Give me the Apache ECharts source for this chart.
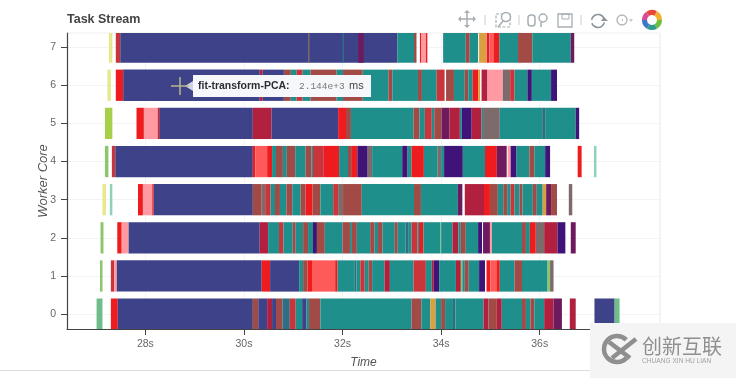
<!DOCTYPE html>
<html><head><meta charset="utf-8">
<style>html,body{margin:0;padding:0;background:#fff}#c{width:736px;height:378px;filter:blur(0.65px)}</style>
<script src="https://cdn.jsdelivr.net/npm/echarts@6/dist/echarts.min.js"></script>
</head><body><div id="c"></div>
<script>
const xTicks=[28,30,32,34,36];
const yTicks=[0,1,2,3,4,5,6,7];
const kinds={N:'#3e4389',T:'#1f8f8c',R:'#ee1c1f',B:'#a14a46',C:'#b1203f',I:'#3f1377',M:'#6d1b5e',P:'#ff9aa2',S:'#ff5a5a',G:'#7d6a6a',L:'#2f6d82',Y:'#e6e88c',E:'#8cc66a',A:'#a8cf4a',O:'#d9a040',K:'#8fd0b8',F:'#70bd8a',D:'#c9353a'};
const row0=[[27.01,27.13,'F'],[27.30,27.44,'R'],[27.44,30.18,'N'],[30.18,30.29,'B'],[30.29,30.47,'N'],[30.47,30.57,'C'],[30.57,30.65,'N'],[30.65,30.78,'B'],[30.78,30.93,'L'],[30.93,31.05,'D'],[31.05,31.18,'T'],[31.18,31.27,'N'],[31.27,31.32,'T'],[31.32,31.55,'B'],[31.55,33.40,'T'],[33.40,33.60,'B'],[33.60,33.78,'T'],[33.78,33.89,'O'],[33.89,34.0,'T'],[34.0,34.08,'B'],[34.08,34.24,'T'],[34.24,34.29,'L'],[34.29,34.86,'T'],[34.86,34.96,'C'],[34.96,35.13,'B'],[35.13,35.23,'C'],[35.23,35.64,'T'],[35.64,35.72,'B'],[35.72,35.81,'T'],[35.81,35.89,'B'],[35.89,36.09,'T'],[36.09,36.28,'C'],[36.28,36.45,'M'],[36.61,36.73,'C'],[37.11,37.52,'N'],[37.52,37.62,'F']];
const row1=[[27.08,27.13,'E'],[27.30,27.37,'D'],[27.37,27.42,'P'],[27.42,30.36,'N'],[30.36,30.53,'R'],[30.53,31.12,'N'],[31.12,31.20,'T'],[31.20,31.29,'B'],[31.29,31.38,'R'],[31.38,31.85,'S'],[31.85,31.90,'R'],[31.90,32.25,'T'],[32.25,32.28,'L'],[32.28,32.36,'T'],[32.36,32.45,'D'],[32.45,32.53,'T'],[32.53,32.60,'B'],[32.60,32.85,'T'],[32.85,32.96,'C'],[32.96,33.44,'T'],[33.44,33.69,'D'],[33.69,33.81,'T'],[33.81,33.85,'C'],[33.85,33.96,'I'],[33.96,34.30,'T'],[34.30,34.40,'C'],[34.40,34.43,'E'],[34.43,34.48,'T'],[34.48,34.56,'B'],[34.56,34.77,'T'],[34.77,34.89,'I'],[34.92,35.0,'R'],[35.0,35.12,'S'],[35.12,35.19,'R'],[35.19,35.49,'T'],[35.49,35.64,'B'],[35.64,36.16,'T'],[36.16,36.21,'E'],[36.21,36.28,'G']];
const row2=[[27.09,27.15,'E'],[27.43,27.52,'R'],[27.52,27.66,'P'],[27.66,30.32,'N'],[30.32,30.49,'C'],[30.49,30.71,'T'],[30.71,30.80,'D'],[30.80,30.99,'T'],[30.99,31.05,'B'],[31.05,31.20,'T'],[31.20,31.30,'B'],[31.30,31.40,'T'],[31.40,31.48,'I'],[31.48,31.64,'B'],[31.64,32.0,'T'],[32.0,32.15,'B'],[32.15,32.19,'T'],[32.19,32.29,'B'],[32.29,32.56,'T'],[32.56,32.65,'B'],[32.65,32.72,'T'],[32.72,32.81,'B'],[32.81,33.06,'T'],[33.06,33.12,'B'],[33.12,33.28,'T'],[33.28,33.33,'L'],[33.33,33.40,'T'],[33.40,33.52,'D'],[33.52,33.55,'T'],[33.55,33.64,'R'],[33.64,33.98,'T'],[33.98,34.0,'F'],[34.0,34.23,'T'],[34.23,34.35,'C'],[34.35,34.40,'T'],[34.40,34.50,'B'],[34.50,34.75,'T'],[34.75,34.83,'I'],[34.85,34.99,'M'],[34.99,35.03,'P'],[35.03,35.64,'T'],[35.64,35.72,'B'],[35.72,35.80,'T'],[35.80,35.92,'R'],[35.92,36.09,'G'],[36.09,36.36,'C'],[36.36,36.52,'I'],[36.63,36.73,'M']];
const row3=[[27.13,27.20,'Y'],[27.28,27.33,'K'],[27.85,27.95,'R'],[27.95,28.14,'P'],[28.14,28.17,'R'],[28.17,30.18,'N'],[30.18,30.36,'B'],[30.36,30.43,'G'],[30.43,30.54,'D'],[30.54,30.63,'T'],[30.63,30.73,'B'],[30.73,30.86,'T'],[30.86,30.98,'B'],[30.98,31.15,'T'],[31.15,31.25,'B'],[31.25,31.39,'R'],[31.39,31.55,'B'],[31.55,31.81,'T'],[31.81,31.91,'D'],[31.91,32.01,'G'],[32.01,32.39,'B'],[32.39,33.45,'T'],[33.45,33.59,'B'],[33.59,34.34,'T'],[34.34,34.43,'M'],[34.48,34.87,'C'],[34.87,34.99,'R'],[34.99,35.15,'B'],[35.15,35.26,'T'],[35.26,35.34,'B'],[35.34,35.41,'T'],[35.41,35.49,'D'],[35.49,35.59,'T'],[35.59,35.65,'B'],[35.65,35.86,'T'],[35.86,35.94,'B'],[35.94,36.06,'T'],[36.06,36.13,'O'],[36.13,36.23,'M'],[36.23,36.35,'B'],[36.59,36.66,'G']];
const row4=[[27.18,27.25,'E'],[27.32,27.39,'D'],[27.39,30.18,'N'],[30.18,30.23,'R'],[30.23,30.47,'S'],[30.47,30.57,'R'],[30.57,30.65,'T'],[30.65,30.79,'B'],[30.79,30.87,'T'],[30.87,31.04,'B'],[31.04,31.25,'T'],[31.25,31.37,'B'],[31.37,31.40,'T'],[31.40,31.62,'D'],[31.62,31.93,'R'],[31.93,32.11,'T'],[32.11,32.19,'B'],[32.19,32.30,'R'],[32.30,32.51,'I'],[32.51,32.60,'G'],[32.60,33.21,'T'],[33.21,33.32,'I'],[33.32,33.40,'T'],[33.40,33.65,'R'],[33.65,33.93,'T'],[33.93,34.0,'G'],[34.0,34.06,'T'],[34.06,34.44,'I'],[34.44,34.89,'T'],[34.89,35.13,'R'],[35.13,35.33,'M'],[35.35,35.41,'P'],[35.41,35.53,'I'],[35.53,35.79,'T'],[35.79,35.89,'B'],[35.89,36.11,'T'],[36.11,36.21,'I'],[36.77,36.85,'R'],[37.10,37.15,'K']];
const row5=[[27.18,27.33,'A'],[27.82,27.97,'R'],[27.97,28.25,'P'],[28.25,28.28,'R'],[28.28,30.18,'N'],[30.18,30.56,'C'],[30.56,31.91,'N'],[31.91,32.07,'R'],[32.07,32.17,'B'],[32.17,33.44,'T'],[33.44,33.56,'B'],[33.56,33.67,'T'],[33.67,33.81,'D'],[33.81,33.86,'T'],[33.86,34.01,'B'],[34.01,34.17,'M'],[34.17,34.38,'C'],[34.38,34.42,'T'],[34.42,34.62,'I'],[34.62,34.82,'C'],[34.82,34.85,'T'],[34.85,35.19,'G'],[35.19,36.05,'T'],[36.05,36.11,'L'],[36.11,36.73,'T'],[36.73,36.80,'I']];
const row6=[[27.23,27.30,'Y'],[27.40,27.55,'R'],[27.55,30.32,'N'],[30.32,30.38,'C'],[30.38,30.81,'N'],[30.81,30.95,'B'],[30.95,31.07,'T'],[31.07,31.19,'D'],[31.19,31.35,'T'],[31.35,31.88,'B'],[31.88,32.01,'T'],[32.01,32.41,'B'],[32.41,32.93,'T'],[32.93,33.01,'B'],[33.01,33.53,'T'],[33.53,33.61,'B'],[33.61,33.91,'T'],[33.91,34.07,'D'],[34.10,34.26,'B'],[34.26,34.48,'T'],[34.48,34.55,'B'],[34.55,34.64,'T'],[34.64,34.75,'R'],[34.75,34.79,'O'],[34.82,34.94,'C'],[34.94,35.25,'P'],[35.25,35.40,'G'],[35.40,35.49,'D'],[35.49,35.75,'T'],[35.75,35.84,'I'],[35.84,36.23,'T'],[36.23,36.35,'I']];
const row7=[[27.26,27.33,'Y'],[27.40,27.49,'D'],[27.49,33.11,'N'],[31.30,31.33,'G'],[32.0,32.03,'L'],[32.32,32.43,'M'],[33.11,33.45,'T'],[33.45,33.50,'B'],[33.57,33.60,'R'],[33.60,33.69,'P'],[33.69,33.72,'R'],[34.04,34.50,'T'],[34.50,34.58,'B'],[34.58,34.75,'T'],[34.77,34.91,'O'],[34.92,34.98,'R'],[34.98,35.06,'S'],[35.06,35.18,'R'],[35.18,35.56,'T'],[35.56,35.85,'B'],[35.85,36.63,'T'],[36.63,36.70,'M']];
const rows=[row0,row1,row2,row3,row4,row5,row6,row7];
const barHeight=0.82;
const segs=[];rows.forEach((r,i)=>r.forEach(s=>segs.push([s[0],s[1],i,s[2]])));
const tc='#666';
const g=[];
const icon='#a6aeb2';
function ln(x1,y1,x2,y2,c,w,z){g.push({type:'line',z:z||0,shape:{x1,y1,x2,y2},style:{stroke:c||icon,lineWidth:w||1.5}})}
// outer frame and bottom rule
ln(67,33,660,33,'#efefef',1);ln(660,33,660,329,'#e8e8e8',1);
ln(0,370.5,590,370.5,'#dcdcdc',1);
// toolbar
ln(460,19,474,19);ln(467,12,467,26);
g.push({type:'polygon',shape:{points:[[467,10],[464,13],[470,13]]},style:{fill:icon}},{type:'polygon',shape:{points:[[467,28],[464,25],[470,25]]},style:{fill:icon}},{type:'polygon',shape:{points:[[458,19],[461,16],[461,22]]},style:{fill:icon}},{type:'polygon',shape:{points:[[476,19],[473,16],[473,22]]},style:{fill:icon}});
ln(485,15,485,25,'#c8cdd0',1);
g.push({type:'rect',shape:{x:496,y:14,width:14,height:13},style:{fill:'none',stroke:icon,lineWidth:1.2,lineDash:[3,1.5]}});
g.push({type:'circle',shape:{cx:506,cy:17,r:4.5},style:{fill:'#fff',stroke:icon,lineWidth:1.5}});
ln(503,21,498,27);
ln(519,15,519,25,'#c8cdd0',1);
g.push({type:'rect',shape:{x:528,y:15,width:7,height:11,r:3},style:{fill:'none',stroke:icon,lineWidth:1.5}});
g.push({type:'circle',shape:{cx:543,cy:18,r:4},style:{fill:'none',stroke:icon,lineWidth:1.5}});
ln(541,22,541,27);
g.push({type:'rect',shape:{x:558,y:14,width:14,height:13},style:{fill:'none',stroke:icon,lineWidth:1.3}});
g.push({type:'rect',shape:{x:562,y:14,width:7,height:5},style:{fill:'none',stroke:icon,lineWidth:1}});
ln(581,15,581,25,'#c8cdd0',1);
g.push({type:'arc',shape:{cx:598,cy:21,r:6.5,startAngle:0.2,endAngle:2.8},style:{stroke:'#8a9499',lineWidth:1.6,fill:'none'}});
g.push({type:'arc',shape:{cx:598,cy:21,r:6.5,startAngle:3.3,endAngle:5.9},style:{stroke:'#8a9499',lineWidth:1.6,fill:'none'}});
g.push({type:'polygon',shape:{points:[[604,17],[608,21],[601,21]]},style:{fill:'#8a9499'}});
g.push({type:'circle',shape:{cx:622,cy:20,r:5},style:{fill:'none',stroke:'#b4babd',lineWidth:1.4}});
ln(622,20,623,20,'#b4babd',2);
g.push({type:'polygon',shape:{points:[[629,19],[633,19],[631,22]]},style:{fill:'#c4c9cb'}});
[['#e8483a',-2.2,-1.05],['#f4b02c',-1.05,0],['#6cbf3f',0,1.05],['#2f9a8c',1.05,2.1],['#3f77c8',2.1,3.15],['#d94a90',3.15,4.08]].forEach(a=>g.push({type:'sector',shape:{cx:652,cy:20,r:10,r0:5,startAngle:a[1],endAngle:a[2]},style:{fill:a[0]}}));
// title
g.push({type:'text',style:{x:67,y:19.5,text:'Task Stream',fill:'#444',font:'bold 12.5px "Liberation Sans"',verticalAlign:'middle'}});
// hover tooltip
g.push({type:'polygon',z:50,shape:{points:[[185,86],[193,81],[193,91]]},style:{fill:'#cfd2de'}});
g.push({type:'rect',z:50,shape:{x:193,y:75,width:178,height:22},style:{fill:'#f6f7fa'}});
g.push({type:'text',z:51,style:{x:198,y:86,text:'fit-transform-PCA:',fill:'#2c2c33',font:'bold 10.5px "Liberation Sans"',verticalAlign:'middle'}});
g.push({type:'text',z:51,style:{x:299,y:86,text:'2.144e+3',fill:'#777',font:'9.5px "Liberation Mono"',verticalAlign:'middle'}});
g.push({type:'text',z:51,style:{x:349,y:86,text:'ms',fill:'#444',font:'11px "Liberation Sans"',verticalAlign:'middle'}});
ln(171,86,189,86,'#b9b48c',1.5,52);ln(180,77,180,95,'#b9b48c',1.5,52);
// watermark
g.push({type:'rect',z:60,shape:{x:590,y:323,width:146,height:55},style:{fill:'#f4f4f4'}});
g.push({type:'arc',z:61,shape:{cx:617,cy:349,r:13,startAngle:0.75,endAngle:5.5},style:{stroke:'#8f8f8f',lineWidth:4.5,fill:'none'}});
g.push({type:'line',z:61,shape:{x1:609,y1:342,x2:630,y2:358},style:{stroke:'#8f8f8f',lineWidth:4.5}});
g.push({type:'line',z:61,shape:{x1:612,y1:358,x2:636,y2:339},style:{stroke:'#8f8f8f',lineWidth:4.5}});
g.push({type:'text',z:61,style:{x:642,y:346,text:'创新互联',fill:'#8f8f8f',font:'20px "Noto Sans CJK SC"',verticalAlign:'middle'}});
g.push({type:'text',z:61,style:{x:642,y:361,text:'CHUANG XIN HU LIAN',fill:'#a0a0a0',font:'6.6px "Liberation Sans"',verticalAlign:'middle'}});
const chart=echarts.init(document.getElementById('c'),null,{renderer:'canvas'});
chart.setOption({animation:false,backgroundColor:'#fff',
grid:{left:67,right:76,top:33,bottom:49},
xAxis:{type:'value',min:26.41,max:38.44,name:'Time',nameLocation:'middle',nameGap:28,nameMoveOverlap:false,nameTextStyle:{fontStyle:'italic',fontSize:12,color:'#555',fontFamily:'Liberation Sans'},
 axisLine:{show:true,onZero:false,lineStyle:{color:'#444',width:1.2}},
 axisTick:{show:true,length:6,inside:false,customValues:xTicks,lineStyle:{color:'#444'}},
 axisLabel:{customValues:xTicks,formatter:v=>v+'s',color:tc,fontSize:10.5,margin:10,fontFamily:'Liberation Sans'},
 splitLine:{show:true,lineStyle:{color:'#f3f3f3'}}},
yAxis:{type:'value',min:-0.39,max:7.37,name:'Worker Core',nameLocation:'middle',nameGap:17,nameMoveOverlap:false,nameTextStyle:{fontStyle:'italic',fontSize:13,color:'#555',fontFamily:'Liberation Sans'},
 axisLine:{show:true,onZero:false,lineStyle:{color:'#444',width:1.2}},
 axisTick:{show:true,length:6,customValues:yTicks,lineStyle:{color:'#444'}},
 axisLabel:{customValues:yTicks,color:tc,fontSize:10.5,margin:11,fontFamily:'Liberation Sans'},
 splitLine:{show:true,lineStyle:{color:'#f3f3f3'}}},
series:[{type:'custom',clip:true,data:segs,encode:{x:[0,1],y:2},
 renderItem(p,api){
  const a=api.coord([api.value(0),api.value(2)+barHeight/2]);
  const b=api.coord([api.value(1),api.value(2)-barHeight/2]);
  return {type:'rect',shape:{x:a[0],y:a[1],width:b[0]-a[0],height:b[1]-a[1]},style:{fill:kinds[segs[p.dataIndex][3]]}};
 }}],
graphic:{elements:g}});
</script></body></html>
